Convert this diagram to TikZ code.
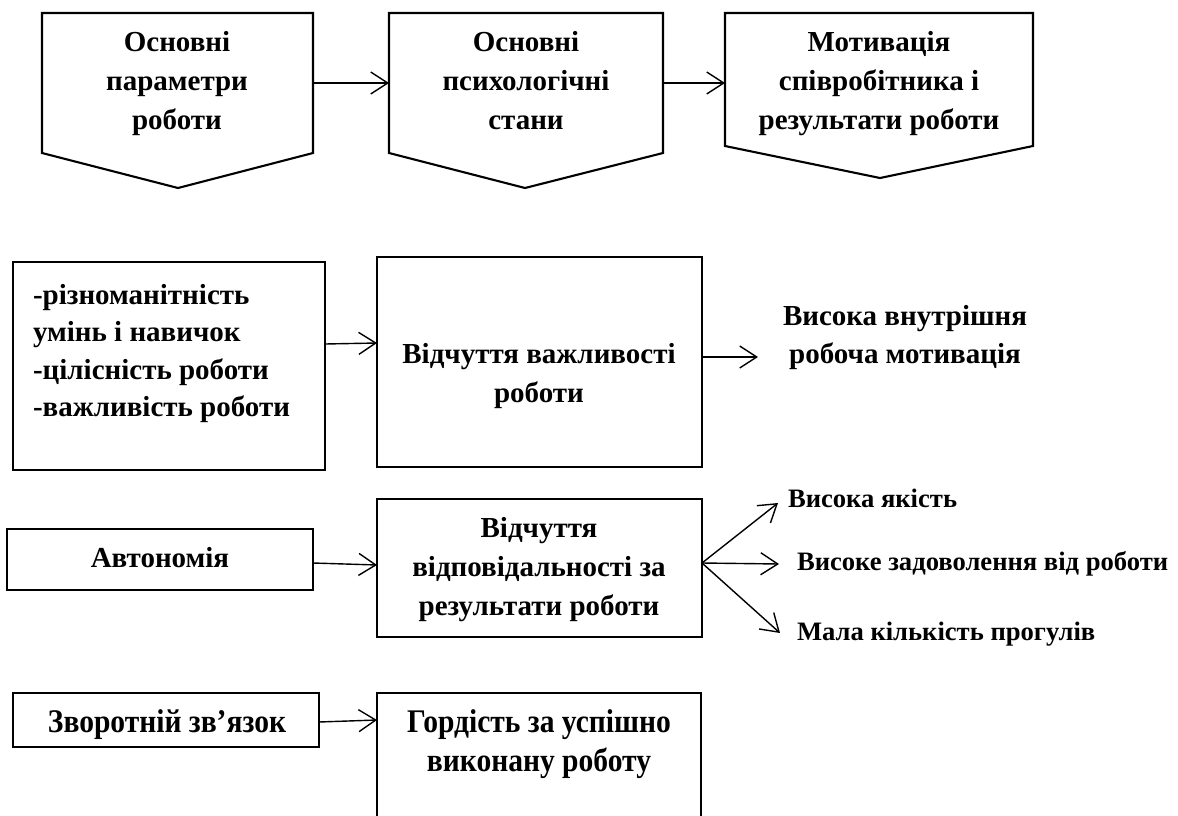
\documentclass[tikz,border=0pt]{standalone}
\usepackage{fontspec}
\setmainfont{Liberation Serif}
\newfontfamily\condfont[FakeStretch=0.895]{Liberation Serif}
\usetikzlibrary{arrows.meta}
\newcommand{\ctr}[2]{\parbox[t]{#1}{\centering #2}}
\newcommand{\lft}[2]{\parbox[t]{#1}{\raggedright #2}}
\begin{document}
\begin{tikzpicture}[x=1pt,y=-1pt,
  shp/.style={draw, line width=2.1pt, inner sep=0pt, outer sep=0pt, line join=miter},
  hold/.style={inner sep=0pt, outer sep=0pt},
  arr/.style={line width=1.4pt, -{Straight Barb[length=17pt,width=22pt,line width=1.4pt]}},
  txt/.style={inner sep=0pt, outer sep=0pt, font=\bfseries\fontsize{29}{39}\selectfont},
  stxt/.style={inner sep=0pt, outer sep=0pt, font=\bfseries\fontsize{26.6}{39}\selectfont},
  ctxt/.style={inner sep=0pt, outer sep=0pt, font=\condfont\bfseries\fontsize{33}{39}\selectfont}]
\useasboundingbox (0,0) rectangle (1178,816);
\clip (0,0) rectangle (1178,816);
\fill[white] (0,0) rectangle (1178,816);
% ---- top row: pentagons
\node[hold, minimum width=271pt, minimum height=140pt] (p1) at (177.5,83) {};
\coordinate (p1tip) at (178,188);
\draw[shp] (p1.north west) -- (p1.north east) -- (p1.south east) -- (p1tip) -- (p1.south west) -- cycle;
\node[hold, minimum width=274pt, minimum height=140pt] (p2) at (526,83) {};
\coordinate (p2tip) at (525,188);
\draw[shp] (p2.north west) -- (p2.north east) -- (p2.south east) -- (p2tip) -- (p2.south west) -- cycle;
\node[hold, minimum width=308pt, minimum height=133pt] (p3) at (879,79.5) {};
\coordinate (p3tip) at (880,178);
\draw[shp] (p3.north west) -- (p3.north east) -- (p3.south east) -- (p3tip) -- (p3.south west) -- cycle;
\node[txt, anchor=base] (t1) at (177,52) {\ctr{260pt}{Основні\\параметри\\роботи}};
\node[txt, anchor=base] (t2) at (526,52) {\ctr{260pt}{Основні\\психологічні\\стани}};
\node[txt, anchor=base] (t3) at (879,52) {\ctr{300pt}{Мотивація\\співробітника і\\результати роботи}};
\draw[arr] (p1.east) -- (p2.west);
\draw[arr] (p2.east) -- (p2.east -| p3.west);
% ---- row 2
\node[shp, minimum width=312pt, minimum height=208pt] (A) at (169,366) {};
\node[txt, anchor=base west, font=\bfseries\fontsize{29}{37.5}\selectfont] (tA) at (33,304) {\lft{290pt}{-різноманітність\\умінь і навичок\\-цілісність роботи\\-важливість роботи}};
\node[shp, minimum width=325pt, minimum height=210pt] (B) at (539.5,362) {};
\node[txt, anchor=base] (tB) at (539,363) {\ctr{310pt}{Відчуття важливості\\роботи}};
\node[txt, anchor=base, font=\bfseries\fontsize{29}{38}\selectfont] (mot) at (905,325.5) {\ctr{294pt}{Висока внутрішня\\робоча мотивація}};
\draw[arr] ([yshift=22pt]A.east) -- ([yshift=19pt]B.west);
\draw[arr] ([yshift=5pt]B.east) -- ([yshift=5pt]B.east -| mot.west);
% ---- row 3
\node[shp, minimum width=306pt, minimum height=61pt] (aut) at (160,559.5) {};
\node[txt, anchor=base] (taut) at (160,567) {Автономія};
\node[shp, minimum width=325pt, minimum height=138pt] (C) at (539.5,568) {};
\node[txt, anchor=base] (tC) at (539,537) {\ctr{320pt}{Відчуття\\відповідальності за\\результати роботи}};
\draw[arr] ([yshift=-3.5pt]aut.east) -- ([yshift=3pt]C.west);
\node[stxt, anchor=base west] (q1) at (788,507) {Висока якість};
\node[stxt, anchor=base west] (q2) at (797,570) {Високе задоволення від роботи};
\node[stxt, anchor=base west] (q3) at (797,640) {Мала кількість прогулів};
\draw[arr] ([yshift=5pt]C.east) -- ([xshift=-10pt,yshift=4pt]q1.base west);
\draw[arr] ([yshift=5pt]C.east) -- ([xshift=-18pt,yshift=6pt]q2.base west);
\draw[arr] ([yshift=5pt]C.east) -- ([xshift=-17pt,yshift=7pt]q3.base west);
% ---- row 4
\node[shp, minimum width=306pt, minimum height=54pt] (fb) at (166,720) {};
\node[ctxt, anchor=base] (tfb) at (167,732) {Зворотній зв’язок};
\node[shp, minimum width=324pt, minimum height=147pt] (D) at (539,766.5) {};
\node[ctxt, anchor=base] (tD) at (539,732) {\ctr{320pt}{Гордість за успішно\\виконану роботу}};
\draw[arr] ([yshift=-2pt]fb.east) -- (fb.east -| D.west);
\end{tikzpicture}
\end{document}
